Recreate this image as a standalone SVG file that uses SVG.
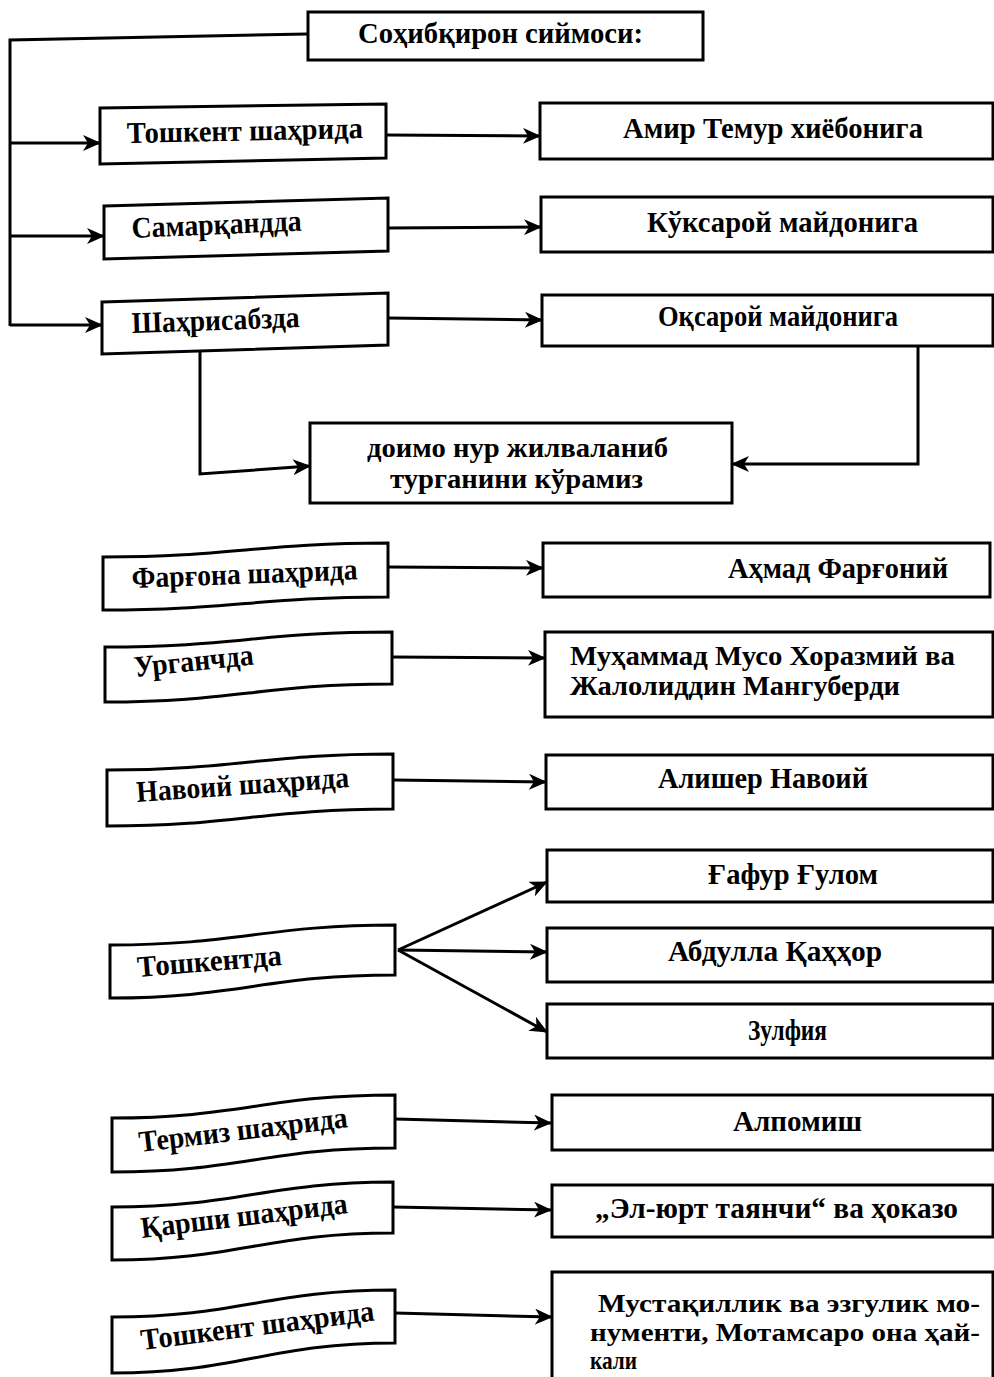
<svg xmlns="http://www.w3.org/2000/svg" width="994" height="1377" viewBox="0 0 994 1377">
<style>
.b{fill:#fff;stroke:#000;stroke-width:3;stroke-linejoin:miter}
.c{fill:none;stroke:#000;stroke-width:3}
.t{font-family:"Liberation Serif","DejaVu Serif",serif;font-weight:bold;font-size:30px;fill:#000}
.m{font-size:27px}
.s{font-size:25px}
</style>
<defs>
<marker id="ah" markerWidth="18" markerHeight="16" refX="17" refY="8" orient="auto" markerUnits="userSpaceOnUse">
<path d="M0,0 L18,8 L0,16 L5,8 Z" fill="#000"/>
</marker>
</defs>
<rect width="994" height="1377" fill="#fff"/>

<g id="connectors">
<polyline class="c" points="307,34 10,40 10,326"/>
<line class="c" x1="10" y1="143" x2="100" y2="143" marker-end="url(#ah)"/>
<line class="c" x1="10" y1="236" x2="104" y2="236" marker-end="url(#ah)"/>
<line class="c" x1="10" y1="325" x2="102" y2="325" marker-end="url(#ah)"/>
<line class="c" x1="386" y1="135" x2="540" y2="136" marker-end="url(#ah)"/>
<line class="c" x1="388" y1="228" x2="541" y2="227" marker-end="url(#ah)"/>
<line class="c" x1="388" y1="318" x2="542" y2="320" marker-end="url(#ah)"/>
<polyline class="c" points="200,352 200,474 310,466" marker-end="url(#ah)"/>
<polyline class="c" points="918,346 918,464 732,464" marker-end="url(#ah)"/>
<line class="c" x1="388" y1="567" x2="543" y2="568" marker-end="url(#ah)"/>
<line class="c" x1="392" y1="657" x2="545" y2="658" marker-end="url(#ah)"/>
<line class="c" x1="393" y1="780" x2="546" y2="782" marker-end="url(#ah)"/>
<line class="c" x1="398" y1="950" x2="547" y2="882" marker-end="url(#ah)"/>
<line class="c" x1="398" y1="950" x2="547" y2="952" marker-end="url(#ah)"/>
<line class="c" x1="398" y1="950" x2="547" y2="1032" marker-end="url(#ah)"/>
<line class="c" x1="395" y1="1119" x2="551" y2="1123" marker-end="url(#ah)"/>
<line class="c" x1="393" y1="1207" x2="551" y2="1210" marker-end="url(#ah)"/>
<line class="c" x1="395" y1="1313" x2="552" y2="1317" marker-end="url(#ah)"/>
</g>

<g id="n-main">
<rect class="b" x="308" y="12" width="395" height="48"/>
<text class="t" x="358" y="43" textLength="285" lengthAdjust="spacingAndGlyphs">Соҳибқирон сиймоси:</text>
</g>

<g id="n-toshkent1">
<polygon class="b" points="100,108 386,104 386,158 100,164"/>
<text class="t" x="127" y="143" textLength="236" lengthAdjust="spacingAndGlyphs" transform="rotate(-1.2 127 143)">Тошкент шаҳрида</text>
</g>
<g id="n-samarqand">
<polygon class="b" points="104,206 388,198 388,251 104,259"/>
<text class="t" x="132" y="238" textLength="170" lengthAdjust="spacingAndGlyphs" transform="rotate(-2.5 132 238)">Самарқандда</text>
</g>
<g id="n-shahrisabz">
<polygon class="b" points="102,302 388,293 388,345 102,354"/>
<text class="t" x="132" y="333" textLength="168" lengthAdjust="spacingAndGlyphs" transform="rotate(-2 132 333)">Шаҳрисабзда</text>
</g>

<g id="n-amir">
<rect class="b" x="540" y="103" width="453" height="56"/>
<text class="t" x="623" y="138" textLength="300" lengthAdjust="spacingAndGlyphs">Амир Темур хиёбонига</text>
</g>
<g id="n-kuksaroy">
<rect class="b" x="541" y="197" width="452" height="55"/>
<text class="t" x="647" y="232" textLength="271" lengthAdjust="spacingAndGlyphs">Кўксарой майдонига</text>
</g>
<g id="n-oqsaroy">
<rect class="b" x="542" y="295" width="451" height="51"/>
<text class="t" x="658" y="326" textLength="240" lengthAdjust="spacingAndGlyphs">Оқсарой майдонига</text>
</g>

<g id="n-doimo">
<rect class="b" x="310" y="423" width="422" height="80"/>
<text class="t m" x="367" y="457" textLength="301" lengthAdjust="spacingAndGlyphs">доимо нур жилваланиб</text>
<text class="t m" x="390" y="488" textLength="253" lengthAdjust="spacingAndGlyphs">турганини кўрамиз</text>
</g>

<g id="n-fargona">
<path class="b" d="M103,557 C231,557 260,543 388,543 L388,597 C260,597 231,610 103,610 Z"/>
<text class="t" x="132" y="588" textLength="226" lengthAdjust="spacingAndGlyphs" transform="rotate(-2.2 132 588)">Фарғона шаҳрида</text>
</g>
<g id="n-ahmad">
<rect class="b" x="543" y="543" width="447" height="54"/>
<text class="t" x="728" y="578" textLength="220" lengthAdjust="spacingAndGlyphs">Аҳмад Фарғоний</text>
</g>

<g id="n-urganch">
<path class="b" d="M105,647 C234,647 263,632 392,632 L392,684 C263,684 234,702 105,702 Z"/>
<text class="t" x="135" y="677" textLength="120" lengthAdjust="spacingAndGlyphs" transform="rotate(-6 135 677)">Урганчда</text>
</g>
<g id="n-muhammad">
<rect class="b" x="545" y="632" width="448" height="85"/>
<text class="t m" x="570" y="665" textLength="385" lengthAdjust="spacingAndGlyphs">Муҳаммад Мусо Хоразмий ва</text>
<text class="t m" x="570" y="695" textLength="330" lengthAdjust="spacingAndGlyphs">Жалолиддин Мангуберди</text>
</g>

<g id="n-navoiy">
<path class="b" d="M107,770 C236,770 264,754 393,754 L393,809 C264,809 236,826 107,826 Z"/>
<text class="t" x="137" y="802" textLength="213" lengthAdjust="spacingAndGlyphs" transform="rotate(-4 137 802)">Навоий шаҳрида</text>
</g>
<g id="n-alisher">
<rect class="b" x="546" y="755" width="447" height="54"/>
<text class="t" x="658" y="788" textLength="210" lengthAdjust="spacingAndGlyphs">Алишер Навоий</text>
</g>

<g id="n-toshkentda">
<path class="b" d="M110,945 C238,945 267,925 395,925 L395,975 C267,975 238,998 110,998 Z"/>
<text class="t" x="138" y="977" textLength="145" lengthAdjust="spacingAndGlyphs" transform="rotate(-4.7 138 977)">Тошкентда</text>
</g>
<g id="n-gafur">
<rect class="b" x="547" y="850" width="446" height="52"/>
<text class="t" x="708" y="884" textLength="170" lengthAdjust="spacingAndGlyphs">Ғафур Ғулом</text>
</g>
<g id="n-abdulla">
<rect class="b" x="547" y="928" width="446" height="54"/>
<text class="t" x="668" y="961" textLength="214" lengthAdjust="spacingAndGlyphs">Абдулла Қаҳҳор</text>
</g>
<g id="n-zulfiya">
<rect class="b" x="547" y="1004" width="446" height="54"/>
<text class="t" x="748" y="1040" textLength="79" lengthAdjust="spacingAndGlyphs">Зулфия</text>
</g>

<g id="n-termiz">
<path class="b" d="M112,1118 C240,1118 267,1095 395,1095 L395,1148 C267,1148 240,1172 112,1172 Z"/>
<text class="t" x="140" y="1152" textLength="210" lengthAdjust="spacingAndGlyphs" transform="rotate(-6.8 140 1152)">Термиз шаҳрида</text>
</g>
<g id="n-alpomish">
<rect class="b" x="552" y="1095" width="441" height="55"/>
<text class="t" x="733" y="1131" textLength="129" lengthAdjust="spacingAndGlyphs">Алпомиш</text>
</g>

<g id="n-qarshi">
<path class="b" d="M112,1207 C238,1207 267,1182 393,1182 L393,1233 C267,1233 238,1260 112,1260 Z"/>
<text class="t" x="142" y="1238" textLength="208" lengthAdjust="spacingAndGlyphs" transform="rotate(-6.9 142 1238)">Қарши шаҳрида</text>
</g>
<g id="n-elyurt">
<rect class="b" x="552" y="1185" width="441" height="52"/>
<text class="t" x="595" y="1218" textLength="363" lengthAdjust="spacingAndGlyphs">„Эл-юрт таянчи“ ва ҳоказо</text>
</g>

<g id="n-toshkent2">
<path class="b" d="M112,1317 C240,1317 267,1290 395,1290 L395,1343 C267,1343 240,1373 112,1373 Z"/>
<text class="t" x="142" y="1350" textLength="235" lengthAdjust="spacingAndGlyphs" transform="rotate(-7.2 142 1350)">Тошкент шаҳрида</text>
</g>
<g id="n-mustaqillik">
<path class="b" d="M552,1380 L552,1272 L993,1272 L993,1380"/>
<text class="t s" x="598" y="1312" textLength="382" lengthAdjust="spacingAndGlyphs">Мустақиллик ва эзгулик мо-</text>
<text class="t s" x="590" y="1341" textLength="390" lengthAdjust="spacingAndGlyphs">нументи, Мотамсаро она ҳай-</text>
<text class="t s" x="590" y="1369" textLength="47" lengthAdjust="spacingAndGlyphs">кали</text>
</g>
</svg>
